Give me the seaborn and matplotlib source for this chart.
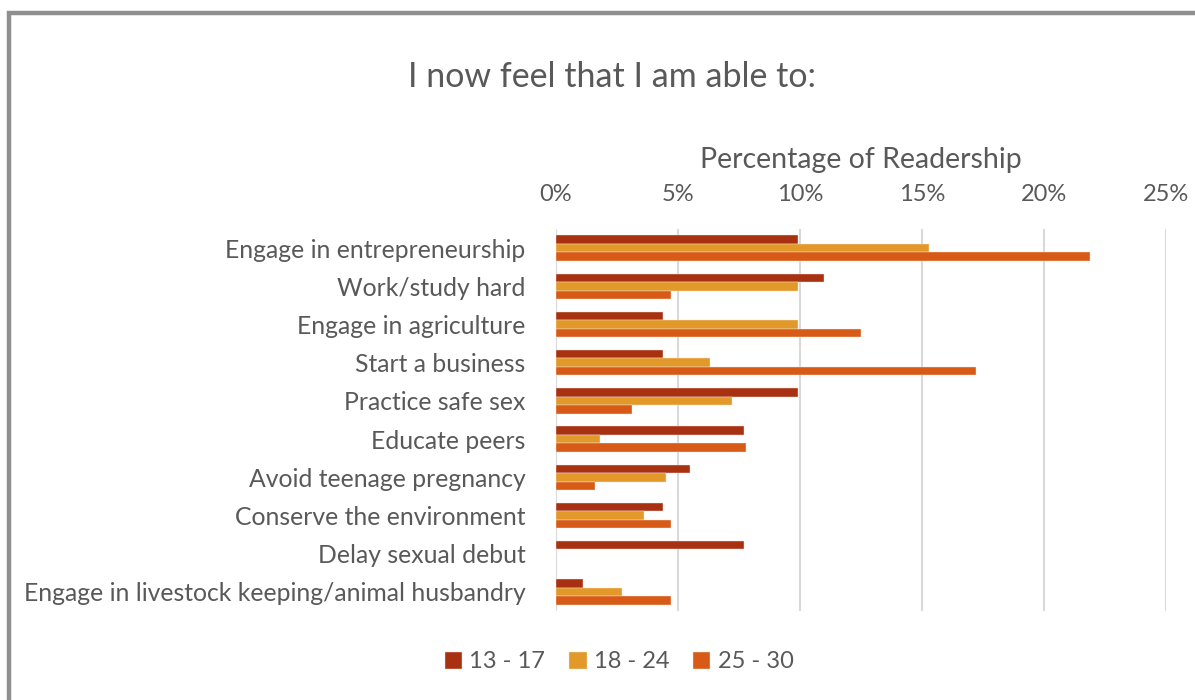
import numpy as np
import pandas as pd
import matplotlib
matplotlib.use("Agg")
import matplotlib.pyplot as plt
from matplotlib.patches import Rectangle
import seaborn as sns

categories = [
    "Engage in entrepreneurship",
    "Work/study hard",
    "Engage in agriculture",
    "Start a business",
    "Practice safe sex",
    "Educate peers",
    "Avoid teenage pregnancy",
    "Conserve the environment",
    "Delay sexual debut",
    "Engage in livestock keeping/animal husbandry",
]
age_groups = ["13 - 17", "18 - 24", "25 - 30"]

# Share of readers (%) per age group
pct_13_17 = [9.9, 11.0, 4.4, 4.4, 9.9, 7.7, 5.5, 4.4, 7.7, 1.1]
pct_18_24 = [15.3, 9.9, 9.9, 6.3, 7.2, 1.8, 4.5, 3.6, np.nan, 2.7]
pct_25_30 = [21.9, 4.7, 12.5, 17.2, 3.1, 7.8, 1.6, 4.7, np.nan, 4.7]

colors = ["#A83112", "#E2992A", "#D75A17"]
text_color = "#595959"

df = pd.DataFrame({
    "Activity": categories * 3,
    "Age": [g for g in age_groups for _ in categories],
    "Percent": pct_13_17 + pct_18_24 + pct_25_30,
})

sns.set_theme(style="white")
plt.rcParams["font.family"] = ["Lato", "DejaVu Sans"]

W, H = 1195, 700
fig = plt.figure(figsize=(W / 100, H / 100), dpi=100)
fig.patch.set_facecolor("white")

# plot area in pixel coordinates
x0, x1 = 556, 1166
y_top, y_bot = 229, 611
ax = fig.add_axes([x0 / W, (H - y_bot) / H, (x1 - x0) / W, (y_bot - y_top) / H])

sns.barplot(
    data=df, y="Activity", x="Percent", hue="Age",
    order=categories, hue_order=age_groups, palette=colors,
    orient="h", width=0.66, saturation=1, ax=ax,
    edgecolor="#F4E6DE", linewidth=0.3, legend=True,
)

ax.set_xlim(0, 25)
ax.set_xticks([0, 5, 10, 15, 20, 25])
ax.set_xticklabels([f"{v}%" for v in [0, 5, 10, 15, 20, 25]])
ax.xaxis.tick_top()
ax.xaxis.set_label_position("top")
ax.set_xlabel("Percentage of Readership", fontsize=20.5, color=text_color, labelpad=12)
ax.set_ylabel("")
ax.tick_params(axis="x", length=0, pad=17, labelsize=17, colors=text_color)
ax.tick_params(axis="y", length=0, pad=22, labelsize=17.8, colors=text_color)
ax.grid(axis="x", color="#D9D9D9", linewidth=1.5)
ax.set_axisbelow(True)
for s in ax.spines.values():
    s.set_visible(False)

# legend below plot
handles, labels = ax.get_legend_handles_labels()
ax.legend_.remove()
fig.legend(
    handles, labels, loc="center", bbox_to_anchor=(0.518, (H - 662) / H),
    ncol=3, frameon=False, fontsize=17, labelcolor=text_color,
    handlelength=0.75, handleheight=0.75, handletextpad=0.3, columnspacing=1.0,
)

fig.text(0.512, (H - 77) / H, "I now feel that I am able to:", ha="center", va="center",
         fontsize=24.5, color=text_color)

# gray frame around the chart
fig.patches.append(Rectangle((8.5 / W, -0.05), 1.2, (H - 13) / H + 0.05,
                             transform=fig.transFigure, fill=False,
                             edgecolor="#8F8F8F", linewidth=3.2, zorder=0))

fig.savefig("out.png", dpi=100, facecolor="white")
